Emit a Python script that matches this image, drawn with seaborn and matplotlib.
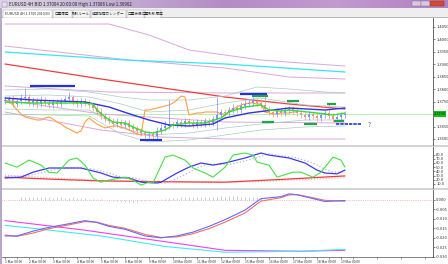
import numpy as np
import pandas as pd
import matplotlib
matplotlib.use("Agg")
import matplotlib.pyplot as plt
import seaborn as sns
from matplotlib.patches import Rectangle
from matplotlib.colors import LinearSegmentedColormap

sns.set_theme(style="white")
plt.rcParams['font.family'] = ['Noto Sans CJK JP', 'DejaVu Sans']

# ---------------- data ----------------
title_text = "EURUSD 4H BID 1.37004 20:00:00 High 1.37086 Low 1.36962"
tab_labels = ["EURUSD 4H 1.3700 2010/03", "口座履歴", "取引ルール", "経済指標カレンダー", "口座状況", "口座取引履歴"]

opens = [1.3752, 1.3756, 1.3760, 1.3740, 1.3752, 1.3764, 1.3768, 1.3744, 1.3752, 1.3740,
         1.3756, 1.3744, 1.3736, 1.3748, 1.3740, 1.3752, 1.3760, 1.3768, 1.3748, 1.3740,
         1.3752, 1.3744, 1.3736, 1.3724, 1.3708, 1.3692, 1.3680, 1.3672, 1.3660, 1.3668,
         1.3656, 1.3664, 1.3648, 1.3640, 1.3632, 1.3624, 1.3616, 1.3620, 1.3612, 1.3632,
         1.3644, 1.3652, 1.3660, 1.3656, 1.3668, 1.3660, 1.3672, 1.3664, 1.3656, 1.3668,
         1.3660, 1.3672, 1.3664, 1.3680, 1.3696, 1.3708, 1.3704, 1.3716, 1.3724, 1.3716,
         1.3732, 1.3740, 1.3744, 1.3752, 1.3744, 1.3736, 1.3720, 1.3708, 1.3700, 1.3712,
         1.3704, 1.3716, 1.3720, 1.3712, 1.3704, 1.3696, 1.3688, 1.3700, 1.3692, 1.3684,
         1.3696, 1.3704, 1.3692, 1.3680, 1.3688, 1.3696]
closes = [1.3756, 1.3760, 1.3740, 1.3752, 1.3764, 1.3768, 1.3744, 1.3752, 1.3740, 1.3756,
          1.3744, 1.3736, 1.3748, 1.3740, 1.3752, 1.3760, 1.3768, 1.3748, 1.3740, 1.3752,
          1.3744, 1.3736, 1.3724, 1.3708, 1.3692, 1.3680, 1.3672, 1.3660, 1.3668, 1.3656,
          1.3664, 1.3648, 1.3640, 1.3632, 1.3624, 1.3616, 1.3620, 1.3612, 1.3632, 1.3644,
          1.3652, 1.3660, 1.3656, 1.3668, 1.3660, 1.3672, 1.3664, 1.3656, 1.3668, 1.3660,
          1.3672, 1.3664, 1.3680, 1.3696, 1.3708, 1.3704, 1.3716, 1.3724, 1.3716, 1.3732,
          1.3740, 1.3744, 1.3752, 1.3744, 1.3736, 1.3720, 1.3708, 1.3700, 1.3712, 1.3704,
          1.3716, 1.3720, 1.3712, 1.3704, 1.3696, 1.3688, 1.3700, 1.3692, 1.3684, 1.3696,
          1.3704, 1.3692, 1.3680, 1.3688, 1.3696, 1.3700]
highs = [1.3768, 1.3772, 1.3776, 1.3764, 1.3780, 1.3804, 1.3780, 1.3768, 1.3764, 1.3772,
         1.3768, 1.3756, 1.3760, 1.3760, 1.3764, 1.3772, 1.3788, 1.3776, 1.3760, 1.3764,
         1.3764, 1.3756, 1.3748, 1.3736, 1.3724, 1.3704, 1.3692, 1.3684, 1.3684, 1.3680,
         1.3676, 1.3676, 1.3660, 1.3652, 1.3644, 1.3636, 1.3632, 1.3632, 1.3648, 1.3660,
         1.3672, 1.3756, 1.3672, 1.3680, 1.3680, 1.3684, 1.3684, 1.3676, 1.3680, 1.3680,
         1.3684, 1.3684, 1.3692, 1.3768, 1.3720, 1.3720, 1.3728, 1.3740, 1.3736, 1.3748,
         1.3756, 1.3760, 1.3768, 1.3764, 1.3760, 1.3788, 1.3732, 1.3720, 1.3724, 1.3724,
         1.3728, 1.3732, 1.3732, 1.3724, 1.3716, 1.3708, 1.3712, 1.3712, 1.3704, 1.3708,
         1.3716, 1.3740, 1.3704, 1.3700, 1.3708, 1.3712]
lows = [1.3740, 1.3744, 1.3728, 1.3728, 1.3740, 1.3752, 1.3732, 1.3732, 1.3724, 1.3728,
        1.3732, 1.3724, 1.3724, 1.3728, 1.3728, 1.3740, 1.3748, 1.3736, 1.3728, 1.3728,
        1.3732, 1.3724, 1.3712, 1.3696, 1.3680, 1.3668, 1.3660, 1.3648, 1.3648, 1.3644,
        1.3644, 1.3636, 1.3628, 1.3620, 1.3612, 1.3604, 1.3604, 1.3596, 1.3600, 1.3620,
        1.3632, 1.3640, 1.3644, 1.3644, 1.3648, 1.3648, 1.3652, 1.3644, 1.3644, 1.3648,
        1.3648, 1.3652, 1.3652, 1.3636, 1.3684, 1.3692, 1.3692, 1.3704, 1.3704, 1.3704,
        1.3720, 1.3728, 1.3732, 1.3732, 1.3724, 1.3708, 1.3696, 1.3688, 1.3688, 1.3692,
        1.3692, 1.3704, 1.3700, 1.3692, 1.3684, 1.3676, 1.3676, 1.3680, 1.3672, 1.3672,
        1.3684, 1.3680, 1.3668, 1.3668, 1.3676, 1.3684]

# moving averages / channels (bar index, price)
ma_fast_x = [0, 7, 19, 22, 23, 25, 27, 30, 32, 35, 37, 40, 42, 46, 50, 54, 56, 60, 64, 66, 69, 71, 78, 82, 85]
ma_fast_y = [1.3748, 1.3744, 1.3744, 1.3740, 1.3716, 1.3688, 1.3668, 1.3664, 1.3648, 1.3628, 1.3624, 1.3636,
             1.3656, 1.3664, 1.3664, 1.3684, 1.3708, 1.3728, 1.3736, 1.3716, 1.3712, 1.3716, 1.3704, 1.3696, 1.3704]
ma_mid_x = [0, 7, 20, 26, 32, 36, 41, 46, 52, 55, 61, 71, 80, 85]
ma_mid_y = [1.3764, 1.3756, 1.3748, 1.3728, 1.3696, 1.3676, 1.3656, 1.3652, 1.3660, 1.3684, 1.3704, 1.3724, 1.3716, 1.3724]
ma_slow_x = [0, 24, 55, 71, 85]
ma_slow_y = [1.3900, 1.3840, 1.3768, 1.3740, 1.3720]
ma_long_x = [0, 30, 55, 85]
ma_long_y = [1.3948, 1.3916, 1.3900, 1.3868]

env1_x = [0, 26, 36, 46, 55, 64, 74, 85]
env1_y = [1.4060, 1.4060, 1.4016, 1.3956, 1.3936, 1.3916, 1.3904, 1.3892]
env2_x = [0, 31, 55, 71, 85]
env2_y = [1.3972, 1.3916, 1.3884, 1.3848, 1.3840]
env3_x = [0, 26, 55, 85]
env3_y = [1.3812, 1.3788, 1.3784, 1.3784]
env4_x = [0, 24, 55, 85]
env4_y = [1.3756, 1.3700, 1.3668, 1.3664]
env5_x = [0, 24, 39, 55, 85]
env5_y = [1.3708, 1.3636, 1.3608, 1.3600, 1.3600]

band_x = [0, 11, 21, 29, 36, 46, 55, 64, 75, 85]
band_u2_x = [0, 11, 21, 29, 36, 46, 55, 63, 71, 80, 85]
band_u2_y = [1.3796, 1.3800, 1.3788, 1.3768, 1.3756, 1.3756, 1.3772, 1.3808, 1.3800, 1.3788, 1.3784]
band_u1_y = [1.3772, 1.3776, 1.3768, 1.3740, 1.3708, 1.3716, 1.3744, 1.3764, 1.3736, 1.3728]
band_l1_y = [1.3720, 1.3716, 1.3716, 1.3644, 1.3616, 1.3624, 1.3644, 1.3660, 1.3676, 1.3676]
band_l2_y = [1.3700, 1.3696, 1.3692, 1.3620, 1.3588, 1.3596, 1.3616, 1.3636, 1.3648, 1.3652]

lag_y = [1.3756, 1.3748, 1.3736, 1.3716, 1.3700, 1.3688, 1.3684, 1.3680, 1.3676, 1.3676,
         1.3684, 1.3688, 1.3680, 1.3668, 1.3660, 1.3648, 1.3640, 1.3632, 1.3624, 1.3632,
         1.3668, 1.3684, 1.3672, 1.3660, 1.3652, 1.3644, 1.3648, 1.3652, 1.3652, 1.3648,
         1.3644, 1.3636, 1.3628, 1.3620, 1.3616, 1.3716, 1.3716, 1.3720, 1.3724, 1.3728,
         1.3732, 1.3736, 1.3744, 1.3756, 1.3772, 1.3768, 1.3696, 1.3700, 1.3704, 1.3704,
         1.3708, 1.3708, 1.3708, 1.3708, 1.3700, 1.3700, 1.3708, 1.3720, 1.3728, 1.3736,
         1.3740, 1.3744, 1.3744, 1.3740, 1.3740, 1.3708, 1.3704, 1.3700, 1.3700, 1.3704,
         1.3704, 1.3704, 1.3708, 1.3708]

# horizontal levels: start bar, end bar, price
blue_levels = [(6.25, 17.5, 1.3812), (33.75, 39.25, 1.3596), (58.75, 65.5, 1.3780)]
blue_dashed_level = (82.75, 89.0, 1.3660)
green_levels = [(61.75, 65.75, 1.3772), (70.5, 73.5, 1.3752), (80.5, 82.75, 1.3740),
                (64.25, 67.25, 1.3668), (74.75, 78.0, 1.3660), (82.25, 84.75, 1.3672)]
current_price = 1.3700
main_ticks = [1.3600, 1.3650, 1.3700, 1.3750, 1.3800, 1.3850, 1.3900, 1.3950, 1.4000, 1.4050]

# oscillator panel
osc_fast_x = [0, 3, 6, 9, 11, 13, 16, 18, 20, 22, 24, 26, 30, 32, 34, 36, 37, 40, 42, 45, 47, 50, 52, 55, 57,
              60, 62, 63, 66, 68, 72, 74, 77, 79, 82, 84, 85]
osc_fast_y = [60, 50, 67, 55, 38, 36, 67, 72, 55, 24, 14, 19, 26, 19, 7, 14, 12, 74, 79, 67, 48, 36, 26, 50, 79,
              84, 79, 62, 55, 26, 38, 38, 26, 38, 74, 67, 50]
osc_main_x = [0, 4, 7, 11, 15, 19, 24, 27, 31, 34, 38, 39, 43, 46, 49, 52, 55, 60, 64, 66, 71, 75, 78, 80, 83, 85]
osc_main_y = [24, 26, 38, 48, 48, 48, 36, 26, 24, 14, 12, 14, 36, 50, 60, 55, 60, 72, 84, 79, 72, 60, 43, 36, 34, 43]
osc_sig_x = [0, 5, 9, 13, 17, 21, 26, 29, 33, 36, 40, 41, 45, 48, 51, 54, 57, 62, 66, 68, 73, 77, 80, 82, 85]
osc_sig_y = [28, 28, 36, 46, 48, 47, 36, 27, 23, 14, 12, 14, 32, 48, 58, 56, 58, 70, 82, 79, 72, 60, 45, 38, 38]
osc_slow_x = [0, 12, 24, 40, 55, 70, 85]
osc_slow_y = [26, 21, 17, 15, 14, 21, 29]
osc_slow2_y = [31, 24, 18, 15, 13, 18, 25]
osc_ticks = [10, 20, 30, 40, 50, 60, 70, 80]

# MACD panel
macd_x = [0, 3, 7, 11, 15, 20, 23, 26, 30, 35, 39, 43, 47, 51, 55, 60, 64, 69, 71, 73, 76, 80, 85]
macd_main = [-0.0190, -0.0190, -0.0165, -0.0145, -0.0130, -0.0110, -0.0120, -0.0140, -0.0155, -0.0190,
             -0.0200, -0.0190, -0.0170, -0.0140, -0.0105, -0.0055, 0.0005, 0.0015, 0.0030, 0.0025,
             0.0010, -0.0010, -0.0005]
macd_signal = [-0.0185, -0.0192, -0.0175, -0.0152, -0.0136, -0.0115, -0.0118, -0.0135, -0.0150, -0.0182,
               -0.0198, -0.0195, -0.0178, -0.0152, -0.0118, -0.0070, -0.0008, 0.0010, 0.0024, 0.0026,
               0.0014, -0.0004, -0.0008]
trend1_x = [0, 20, 40, 55, 74, 85]
trend1_y = [-0.0110, -0.0160, -0.0220, -0.0265, -0.0270, -0.0265]
trend2_x = [0, 7, 24, 40, 55, 74, 85]
trend2_y = [-0.0135, -0.0150, -0.0190, -0.0245, -0.0275, -0.0270, -0.0260]
hist_start = 4
hist_vals = [0.0012, 0.0013, 0.0014, 0.0012, 0.0011, 0.0013, 0.0014, 0.0012, 0.0010, 0.0011,
             0.0012, 0.0010, 0.0009, 0.0011, 0.0008, 0.0007, 0.0006, 0.0005, 0.0004, 0.0003, 0.0002,
             -0.0004, -0.0006, -0.0008, -0.0010, -0.0012, -0.0011, -0.0012, -0.0013, -0.0012, -0.0010,
             -0.0008, -0.0006, -0.0004, -0.0002,
             0.0002, 0.0004, 0.0006, 0.0008, 0.0010, 0.0011, 0.0012, 0.0013, 0.0014, 0.0013,
             0.0014, 0.0015, 0.0016, 0.0015, 0.0016, 0.0017, 0.0016, 0.0017, 0.0018, 0.0017,
             0.0016, 0.0015, 0.0014, 0.0013, 0.0012, 0.0010]
macd_ticks = [-0.030, -0.025, -0.020, -0.015, -0.010, -0.005, 0.000]

x_label_bars = [0, 6, 12, 18, 24, 30, 36, 42, 48, 54, 60, 66, 72, 78, 84]
x_labels = ["1 Mar 00:00", "2 Mar 00:00", "3 Mar 00:00", "4 Mar 00:00", "5 Mar 00:00",
            "8 Mar 00:00", "9 Mar 00:00", "10 Mar 00:00", "11 Mar 00:00", "12 Mar 00:00",
            "15 Mar 00:00", "16 Mar 00:00", "17 Mar 00:00", "18 Mar 00:00", "19 Mar 00:00"]

# ---------------- figure ----------------
W, H = 448, 264
fig = plt.figure(figsize=(W / 100, H / 100), dpi=100)
fig.patch.set_facecolor('white')


def box(x0, y0, x1, y1):
    return [x0 / W, 1 - y1 / H, (x1 - x0) / W, (y1 - y0) / H]


bg = fig.add_axes([0, 0, 1, 1], zorder=-5)
grad = np.linspace(0, 1, 256).reshape(1, -1)
cm = LinearSegmentedColormap.from_list('t', ['#dcd6e4', '#c2aed2', '#b48cc4', '#c29ad0', '#b080c0'])
bg.imshow(grad, extent=(0, W, 8, 0), aspect='auto', cmap=cm, interpolation='bilinear')
bg.add_patch(Rectangle((0, 8), W, 10, facecolor='#eeeeee', edgecolor='none'))
bg.add_patch(Rectangle((0, 17.3), W, 0.7, facecolor='#b8b8b8', edgecolor='none'))
# window buttons
bg.add_patch(Rectangle((412, 0.5), 9, 5, facecolor='#d8c8e0', edgecolor='#806890', lw=0.3))
bg.add_patch(Rectangle((421, 0.5), 9, 5, facecolor='#d8c8e0', edgecolor='#806890', lw=0.3))
bg.add_patch(Rectangle((430, 0.5), 14, 5, facecolor='#d84830', edgecolor='#803020', lw=0.3))
bg.add_patch(Rectangle((2, 1.5), 5, 5, facecolor='#e8e0f0', edgecolor='#8070a0', lw=0.3))
bg.text(9, 4.2, title_text, fontsize=3.2, color='#202020', va='center', ha='left')
# tabs
tab_edges = [2, 52, 72, 90, 126, 144, 161]
for i, lab in enumerate(tab_labels):
    x0, x1 = tab_edges[i] + 0.5, tab_edges[i + 1] - 0.5
    bg.add_patch(Rectangle((x0, 9.5), x1 - x0, 8, facecolor='white' if i == 0 else '#f4f4f4',
                           edgecolor='#a0a0a0', lw=0.3))
    bg.text((x0 + x1) / 2, 13.6, lab, fontsize=2.6, color='#303030', ha='center', va='center')
# separators and frame
bg.add_patch(Rectangle((0, 145), W, 2, facecolor='#d4d4d4', edgecolor='none'))
bg.add_patch(Rectangle((0, 188), W, 2, facecolor='#d4d4d4', edgecolor='none'))
bg.add_patch(Rectangle((0, 8), 1.6, H, facecolor='#b8a8c8', edgecolor='none'))
bg.set_xlim(0, W)
bg.set_ylim(H, 0)
bg.axis('off')

XL = (-0.75, 107)
ax = fig.add_axes(box(2, 18, 433, 145))
ax2 = fig.add_axes(box(2, 147, 433, 188))
ax3 = fig.add_axes(box(2, 190, 433, 257))
for a in (ax, ax2, ax3):
    a.set_facecolor('white')
    a.set_xlim(*XL)
    for s in ('left', 'top', 'bottom'):
        a.spines[s].set_visible(False)
    a.spines['right'].set_color('#505050')
    a.spines['right'].set_linewidth(0.6)
    a.yaxis.tick_right()
    a.tick_params(axis='y', which='both', right=True, length=1.5, width=0.4, pad=0.8,
                  labelsize=2.9, colors='#303030')
    a.tick_params(axis='x', which='both', bottom=False, labelbottom=False)
    a.set_xlabel('')
    a.set_ylabel('')


def line(a, x, y, color, lw, ls='-', z=2):
    sns.lineplot(x=x, y=y, ax=a, color=color, linewidth=lw, linestyle=ls,
                 estimator=None, sort=False, legend=False, zorder=z)


# ---- main chart ----
for ex, ey in [(env1_x, env1_y), (env2_x, env2_y), (env3_x, env3_y), (env4_x, env4_y), (env5_x, env5_y)]:
    line(ax, ex, ey, '#dca6dc', 0.7)
line(ax, ma_long_x, ma_long_y, '#38e4f4', 0.9)
line(ax, ma_slow_x, ma_slow_y, '#f03c3c', 0.9)
line(ax, band_u2_x, band_u2_y, '#a8ccc4', 0.5)
for by in (band_u1_y, band_l1_y, band_l2_y):
    line(ax, band_x, by, '#a8ccc4', 0.5)
ax.axhline(current_price, color='#a8f0a8', lw=0.6, zorder=1)
line(ax, list(range(len(lag_y))), lag_y, '#ffa040', 0.8, z=3)

bars = np.arange(len(closes))
o = np.array(opens)
c = np.array(closes)
cols = np.where(c >= o, '#8a8af2', '#f28e8e')
ax.vlines(bars, lows, highs, colors=cols, lw=0.5, zorder=4)
ax.bar(bars, c - o, bottom=o, width=0.55, color=cols, zorder=4, linewidth=0)

line(ax, ma_mid_x, ma_mid_y, '#3232e0', 1.0, z=5)
line(ax, ma_fast_x, ma_fast_y, '#2ee02e', 1.0, z=6)

for x0, x1, p in blue_levels:
    ax.hlines(p, x0, x1, color='#2233dd', lw=1.6, zorder=7)
ax.hlines(blue_dashed_level[2], blue_dashed_level[0], blue_dashed_level[1], color='#2233dd',
          lw=1.2, linestyles=(0, (2, 0.6)), zorder=7)
for x0, x1, p in green_levels:
    ax.hlines(p, x0, x1, color='#1ea64a', lw=1.6, zorder=7)
ax.text(91, 1.3656, '?', fontsize=5, color='#6464d8', ha='center', va='center')

ax.set_ylim(1.3576, 1.4084)
ax.set_yticks(main_ticks)
# the tick at the current price is covered by the price box, as in the terminal
ax.set_yticklabels(["" if abs(t - current_price) < 1e-9 else f"{t:.4f}" for t in main_ticks])

# current price label
bg.add_patch(Rectangle((433.5, 111), 12.5, 6, facecolor='#10c010', edgecolor='none', zorder=5))
bg.text(439.7, 114.1, f"{current_price:.4f}", fontsize=2.8, color='#102010', ha='center', va='center', zorder=6)

# ---- oscillator ----
line(ax2, osc_slow_x, osc_slow2_y, '#f4a8a8', 0.8, ':')
line(ax2, osc_slow_x, osc_slow_y, '#f03c3c', 0.9)
line(ax2, osc_sig_x, osc_sig_y, '#b4b4f4', 0.9, ':')
line(ax2, osc_main_x, osc_main_y, '#3c3ce4', 0.9)
line(ax2, osc_fast_x, osc_fast_y, '#44e044', 0.8)
ax2.set_ylim(0, 98.4)
ax2.set_yticks(osc_ticks)
ax2.set_yticklabels([f"{t:.1f}" for t in osc_ticks])

# ---- MACD ----
ax3.axhline(0, color='#f08c8c', lw=0.5, ls=':', zorder=1)
hb = np.arange(hist_start, hist_start + len(hist_vals))
ax3.vlines(hb, 0, hist_vals, colors='#9cb4d4', lw=0.45, zorder=2)
line(ax3, trend1_x, trend1_y, '#f040f0', 0.8)
line(ax3, trend2_x, trend2_y, '#40ecf4', 0.8)
line(ax3, macd_x, macd_signal, '#f07070', 0.8)
line(ax3, macd_x, macd_main, '#6a6af0', 0.8)
ax3.set_ylim(-0.0300, 0.0050)
ax3.set_yticks(macd_ticks)
ax3.set_yticklabels([f"{t:.3f}" for t in macd_ticks])
ax3.spines['bottom'].set_visible(True)
ax3.spines['bottom'].set_color('#505050')
ax3.spines['bottom'].set_linewidth(0.5)
ax3.set_xticks(x_label_bars)
ax3.set_xticklabels(x_labels)
ax3.set_xticks(np.arange(3, 107, 6), minor=True)
ax3.tick_params(axis='x', which='major', bottom=True, labelbottom=True, length=1.5, width=0.4,
                pad=0.6, labelsize=2.4, colors='#303030')
ax3.tick_params(axis='x', which='minor', bottom=True, length=1.2, width=0.4, colors='#505050')
for lab in ax3.get_xticklabels():
    lab.set_ha('left')

fig.savefig('out.png', dpi=100, facecolor=fig.get_facecolor())
